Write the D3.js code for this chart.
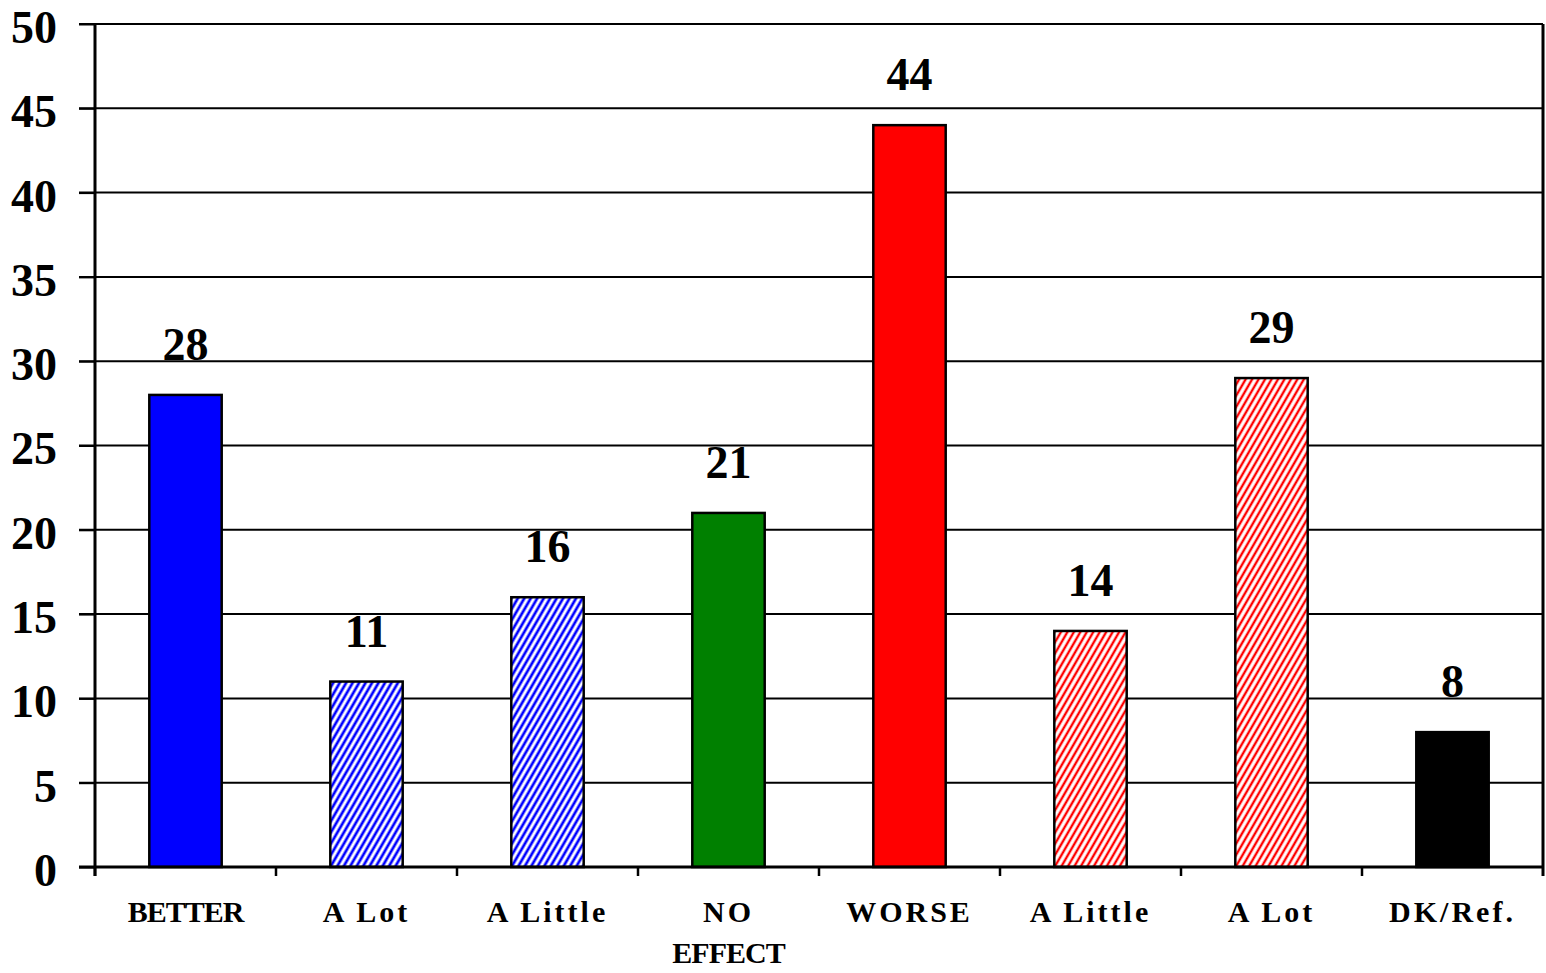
<!DOCTYPE html>
<meta charset="utf-8">
<html>
<body style="margin:0;background:#fff">
<div id="chartContainer"></div>
<script src="https://cdn.jsdelivr.net/npm/d3@7"></script>
<script>
// data
var categories = ["BETTER", "A Lot", "A Little", "NO|EFFECT", "WORSE", "A Little ", "A Lot ", "DK/Ref."];
var values = [28, 11, 16, 21, 44, 14, 29, 8];
var fills = ["solid-blue", "hatch-blue", "hatch-blue", "solid-green", "solid-red", "hatch-red", "hatch-red", "solid-black"];
var yTicks = [0, 5, 10, 15, 20, 25, 30, 35, 40, 45, 50];

var W = 1546, H = 973;
var margin = {left: 95, right: 3, top: 24, bottom: 106};
var serif = "'Liberation Serif', 'Times New Roman', serif";

var svg = d3.select("#chartContainer").append("svg")
  .attr("width", W).attr("height", H);

var defs = svg.append("defs");
function hatch(id, color, sw) {
  var s = 5.6;
  var p = defs.append("pattern")
    .attr("id", id)
    .attr("patternUnits", "userSpaceOnUse")
    .attr("width", s).attr("height", s)
    .attr("patternTransform", "rotate(30)");
  p.append("rect").attr("width", s).attr("height", s).attr("fill", "#fff");
  p.append("line").attr("x1", s / 2).attr("y1", 0).attr("x2", s / 2).attr("y2", s)
    .attr("stroke", color).attr("stroke-width", sw);
}
hatch("hatch-blue", "#0000ff", 2.7);
hatch("hatch-red", "#ff0000", 2.4);

var fillColor = {
  "solid-blue": "#0000ff",
  "solid-green": "#008000",
  "solid-red": "#ff0000",
  "solid-black": "#000000",
  "hatch-blue": "url(#hatch-blue)",
  "hatch-red": "url(#hatch-red)"
};

var x = d3.scaleBand().domain(categories)
  .range([margin.left, W - margin.right]).paddingInner(0.6).paddingOuter(0.3);
var xOuter = d3.scaleBand().domain(categories)
  .range([margin.left, W - margin.right]);
var y = d3.scaleLinear().domain([0, 50]).range([H - margin.bottom, margin.top]);

// gridlines
svg.append("g").selectAll("line")
  .data(yTicks.slice(1))
  .enter().append("line")
  .attr("x1", margin.left - 16).attr("x2", W - margin.right)
  .attr("y1", function (d) { return y(d); })
  .attr("y2", function (d) { return y(d); })
  .attr("stroke", "#000").attr("stroke-width", 2);

// right border
svg.append("line")
  .attr("x1", W - margin.right).attr("x2", W - margin.right)
  .attr("y1", y(50)).attr("y2", y(0) + 9)
  .attr("stroke", "#000").attr("stroke-width", 3);

// bars
svg.append("g").selectAll("rect")
  .data(values)
  .enter().append("rect")
  .attr("x", function (d, i) { return x(categories[i]); })
  .attr("width", x.bandwidth())
  .attr("y", function (d) { return y(d); })
  .attr("height", function (d) { return y(0) - y(d); })
  .attr("fill", function (d, i) { return fillColor[fills[i]]; })
  .attr("stroke", "#000").attr("stroke-width", 2.5);

// value labels
svg.append("g").selectAll("text")
  .data(values)
  .enter().append("text")
  .attr("x", function (d, i) { return x(categories[i]) + x.bandwidth() / 2; })
  .attr("y", function (d) { return y(d) - 35; })
  .attr("text-anchor", "middle")
  .style("font-family", serif)
  .style("font-weight", "bold")
  .style("font-size", "46px")
  .text(function (d) { return d; });

// y axis
var yAxis = d3.axisLeft(y).tickValues(yTicks).tickSize(16).tickPadding(22);
var gy = svg.append("g").attr("transform", "translate(" + margin.left + ",0)").call(yAxis);
gy.select(".domain").attr("stroke-width", 3).attr("d", "M0," + y(50) + "V" + (y(0) + 9));
gy.selectAll(".tick line").attr("stroke-width", 2);
gy.selectAll("text")
  .attr("dy", "0.4em")
  .style("font-family", serif)
  .style("font-weight", "bold")
  .style("font-size", "46px");

// x axis
var gx = svg.append("g").attr("transform", "translate(0," + y(0) + ")");
gx.append("line")
  .attr("x1", margin.left - 16).attr("x2", W - margin.right)
  .attr("stroke", "#000").attr("stroke-width", 3);
gx.selectAll(".xtick")
  .data(categories)
  .enter().append("line")
  .attr("x1", function (d) { return xOuter(d); })
  .attr("x2", function (d) { return xOuter(d); })
  .attr("y1", 0).attr("y2", 9)
  .attr("stroke", "#000").attr("stroke-width", 2.5);

gx.selectAll(".xlabel")
  .data(categories)
  .enter().append("text")
  .attr("x", function (d) { return xOuter(d) + xOuter.bandwidth() / 2; })
  .attr("y", 55)
  .attr("text-anchor", "middle")
  .style("font-family", serif)
  .style("font-weight", "bold")
  .style("font-size", "30px")
  .each(function (d) {
    var lines = d.trim().split("|");
    var t = d3.select(this);
    lines.forEach(function (l, j) {
      // long all-caps words are set tight, the rest spaced out
      var tight = /^[A-Z]{6,}$/.test(l);
      t.append("tspan")
        .attr("x", xOuter(d) + xOuter.bandwidth() / 2)
        .attr("dy", j === 0 ? 0 : 41)
        .style("letter-spacing", tight ? "-1px" : "3px")
        .text(l);
    });
  });
</script>
</body>
</html>
